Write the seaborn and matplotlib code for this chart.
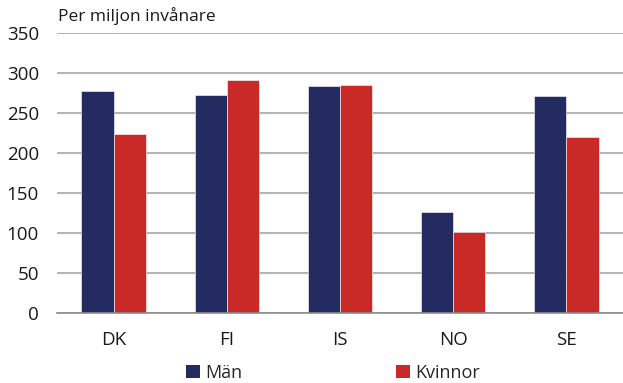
import matplotlib
matplotlib.use("Agg")
import matplotlib.pyplot as plt
import seaborn as sns
import pandas as pd
from matplotlib.patches import Patch

countries = ["DK", "FI", "IS", "NO", "SE"]
man = [277, 273, 284, 126, 271]
kvinnor = [224, 291, 285, 101, 220]
series = ["Män", "Kvinnor"]
yticks = [0, 50, 100, 150, 200, 250, 300, 350]

colors = {"Män": "#232B60", "Kvinnor": "#C92A28"}

df = pd.DataFrame({
    "land": countries * 2,
    "kön": [series[0]] * len(countries) + [series[1]] * len(countries),
    "värde": man + kvinnor,
})

sns.set_style("white")
plt.rcParams["font.family"] = ["Open Sans", "DejaVu Sans"]

fig = plt.figure(figsize=(6.23, 3.83), dpi=100)
ax = fig.add_axes([57 / 623, 1 - 313 / 383, 1 - 57 / 623, (313 - 33) / 383])

sns.barplot(data=df, x="land", y="värde", hue="kön", palette=colors,
            width=0.57, ax=ax, legend=False, saturation=1,
            edgecolor="white", linewidth=0.4)

ax.set_ylim(0, 350)
ax.set_yticks(yticks)
ax.set_xlim(-0.5, 4.5)
ax.yaxis.grid(True, color="#A6A6A6", linewidth=1.2)
ax.set_axisbelow(True)
for s in ["left", "right", "top"]:
    ax.spines[s].set_visible(False)
ax.spines["bottom"].set_color("#8C8C8C")
ax.spines["bottom"].set_linewidth(1.2)
ax.tick_params(axis="both", length=0, labelsize=13.5, colors="#1a1a1a")
ax.tick_params(axis="x", pad=13)
ax.tick_params(axis="y", pad=13)
ax.set_xlabel("")
ax.set_ylabel("")

fig.text(58 / 623, 1 - 16 / 383, "Per miljon invånare", fontsize=12.5,
         va="center", ha="left", color="#1a1a1a")

# one legend entry per series, placed side by side under the axes
for name, xpos in zip(series, [186 / 623, 396 / 623]):
    leg = fig.legend([Patch(facecolor=colors[name], edgecolor="none")], [name],
                     loc="center left", bbox_to_anchor=(xpos, 1 - 373 / 383),
                     frameon=False, fontsize=13, handlelength=0.75,
                     handleheight=0.75, handletextpad=0.3,
                     borderpad=0, borderaxespad=0)

fig.savefig("out.png", dpi=100)
